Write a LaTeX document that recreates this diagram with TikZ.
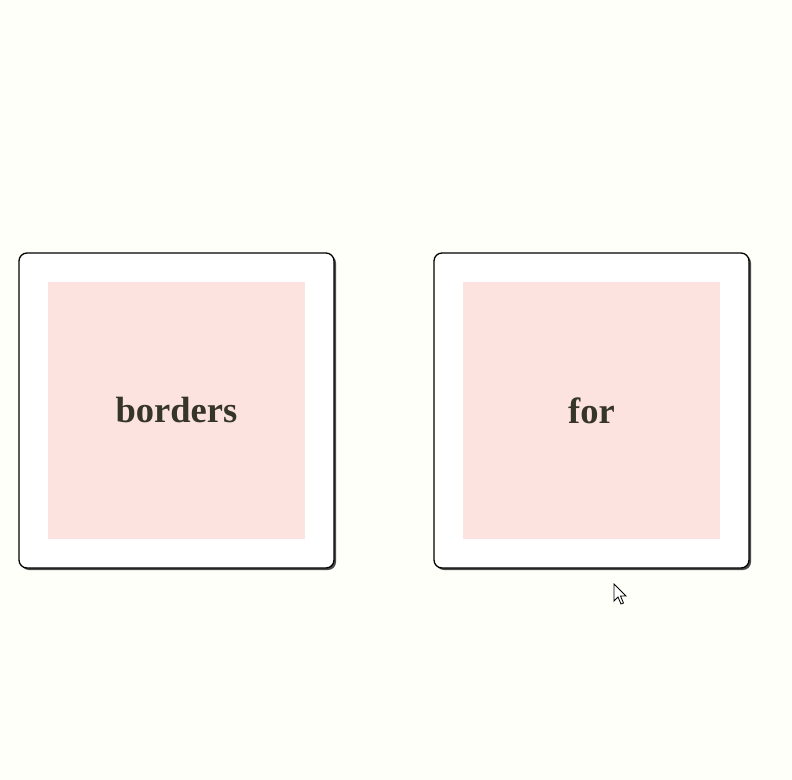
\documentclass[tikz,border=0pt]{standalone}
\usepackage{fontspec}
\setmainfont{Liberation Serif}
\usetikzlibrary{shadows}
\definecolor{pagebg}{HTML}{FFFFF9}
\definecolor{pinkfill}{HTML}{FDE3E0}
\definecolor{wordcol}{HTML}{35352A}
\tikzset{
  card/.style={draw=black, line width=1.3bp, rounded corners=8bp, fill=white,
    minimum size=315bp, inner sep=0pt,
    drop shadow={shadow xshift=2bp, shadow yshift=-2bp, opacity=1, fill=black!70}},
  pad/.style={fill=pinkfill, minimum size=257bp, inner sep=0pt,
    font=\fontsize{36.5bp}{40bp}\selectfont\bfseries, text=wordcol}
}
\begin{document}
\begin{tikzpicture}[x=1bp, y=-1bp]
            % Page
            \fill[pagebg] (0,0) rectangle (792,780);
            \useasboundingbox (0,0) rectangle (792,780);

            % Left box
            \node[card] (leftcard) at (176.5,410.5) {};
            \node[pad] (leftpad) at (leftcard.center) {borders};

            % Right box
            \node[card] (rightcard) at (591.5,410.5) {};
            \node[pad] (rightpad) at (rightcard.center) {for};

            % Pointer
            \filldraw[fill=white, draw=black, line width=0.8bp, line join=miter]
              (614,584) -- (614,601) -- (618,597) -- (621,604) -- (623.5,603)
              -- (620.5,596) -- (626,596) -- cycle;
        \end{tikzpicture}
\end{document}
